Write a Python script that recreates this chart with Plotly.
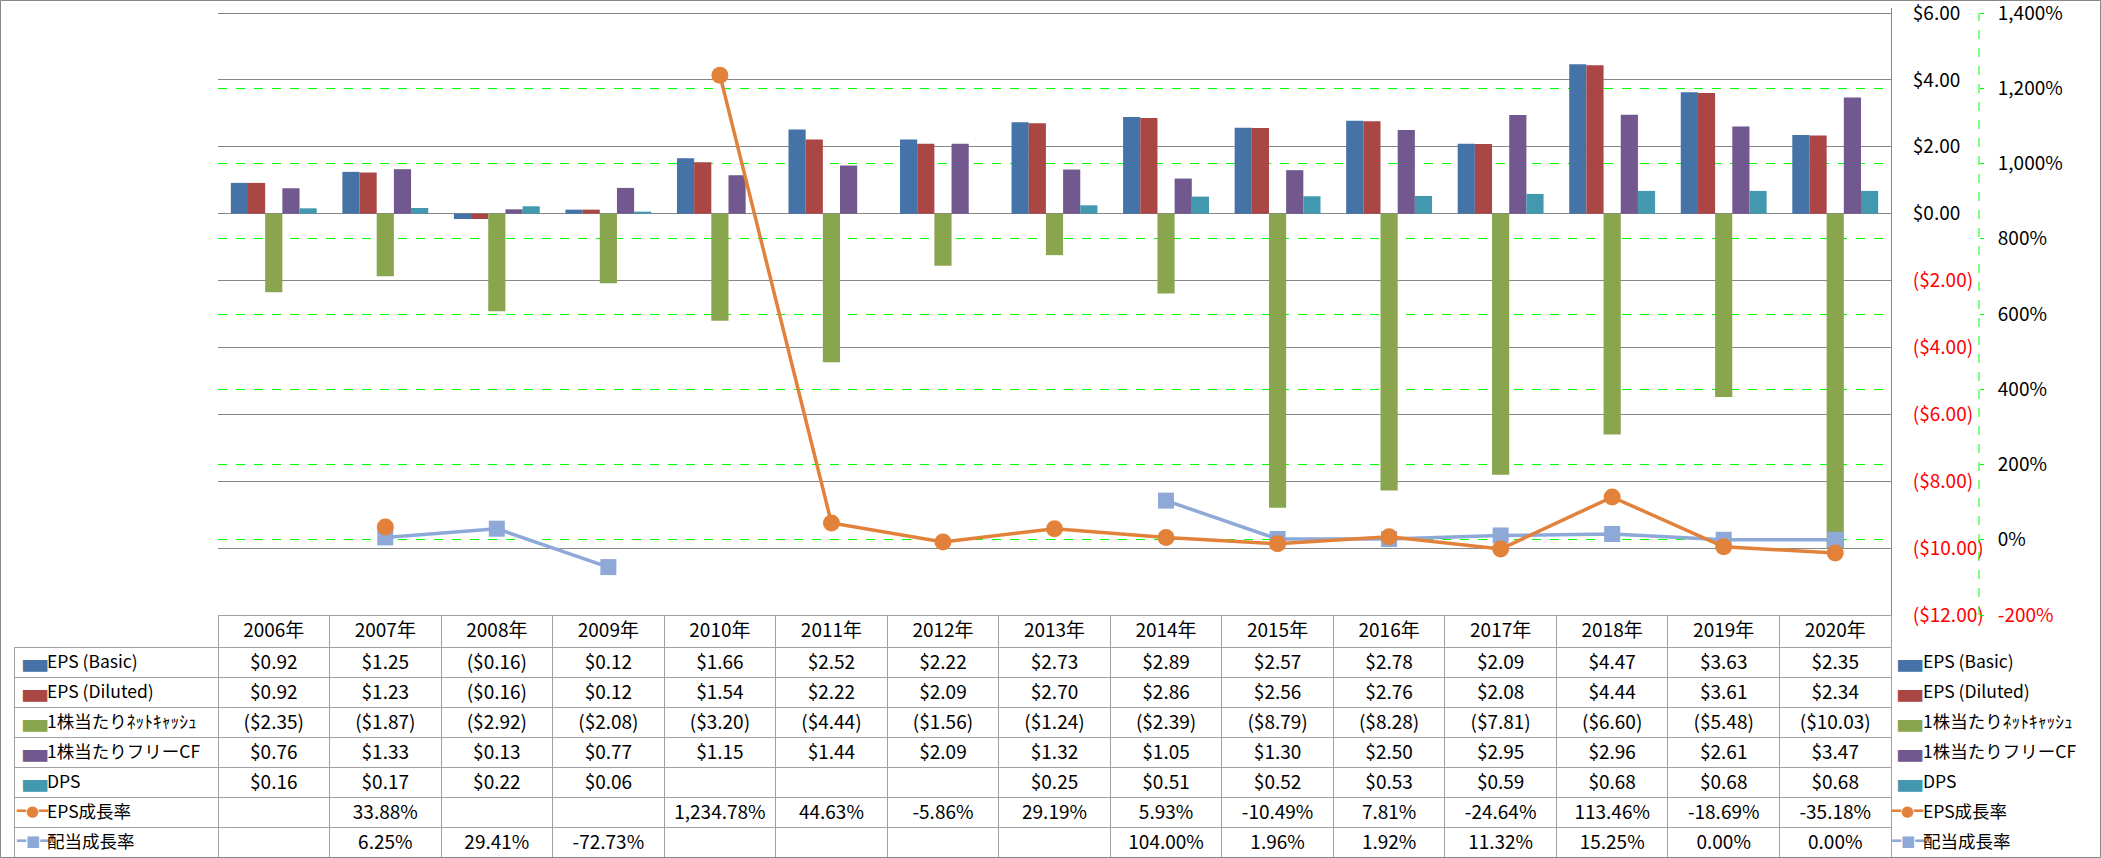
"""
EPS / cash-flow per share chart with data table (Excel style)
"""

import plotly.graph_objects as go

W, H = 2101, 858

years = ['2006年', '2007年', '2008年', '2009年', '2010年', '2011年', '2012年', '2013年',
         '2014年', '2015年', '2016年', '2017年', '2018年', '2019年', '2020年']
eps_basic = [0.92, 1.25, -0.16, 0.12, 1.66, 2.52, 2.22, 2.73, 2.89, 2.57, 2.78, 2.09, 4.47, 3.63, 2.35]
eps_diluted = [0.92, 1.23, -0.16, 0.12, 1.54, 2.22, 2.09, 2.70, 2.86, 2.56, 2.76, 2.08, 4.44, 3.61, 2.34]
net_cash = [-2.35, -1.87, -2.92, -2.08, -3.20, -4.44, -1.56, -1.24, -2.39, -8.79, -8.28, -7.81, -6.60, -5.48, -10.03]
free_cf = [0.76, 1.33, 0.13, 0.77, 1.15, 1.44, 2.09, 1.32, 1.05, 1.30, 2.50, 2.95, 2.96, 2.61, 3.47]
dps = [0.16, 0.17, 0.22, 0.06, None, None, None, 0.25, 0.51, 0.52, 0.53, 0.59, 0.68, 0.68, 0.68]
eps_growth = [None, 33.88, None, None, 1234.78, 44.63, -5.86, 29.19, 5.93, -10.49, 7.81, -24.64, 113.46, -18.69, -35.18]
div_growth = [None, 6.25, 29.41, -72.73, None, None, None, None, 104.00, 1.96, 1.92, 11.32, 15.25, 0.00, 0.00]

dollar_ticks = [6, 4, 2, 0, -2, -4, -6, -8, -10, -12]
pct_ticks_inner = [1200, 1000, 800, 600, 400, 200, 0]   # with green dashed gridlines
pct_ticks_ends = [1400, -200]                           # lie on the plot border lines

FONT = 'Noto Sans CJK JP'
GRID = '#878787'
TBL = '#A0A0A0'
GREEN = '#00FF00'
CLEAR = 'rgba(0,0,0,0)'

bar_series = [
    ('EPS (Basic)', eps_basic, '#4572A7'),
    ('EPS (Diluted)', eps_diluted, '#AA4643'),
    ('1株当たりﾈｯﾄｷｬｯｼｭ', net_cash, '#89A54E'),
    ('1株当たりフリーCF', free_cf, '#71588F'),
    ('DPS', dps, '#4198AF'),
]
line_series = [
    ('EPS成長率', eps_growth, '#E2823A', 'circle', 17, '━●━', 'y3'),
    ('配当成長率', div_growth, '#8EA8D8', 'square', 16, '━■━', 'y2'),
]


def money(v):
    if v is None:
        return ''
    return f'(${-v:,.2f})' if v < 0 else f'${v:,.2f}'


def pct(v):
    if v is None:
        return ''
    return f'{v:,.2f}%'


def red(s):
    return f'<span style="color:#FF0000">{s}</span>'


def pct_label(v):
    return red(f'{v:,}%') if v < 0 else f'{v:,}%'


def px(x):
    return x / W


def py(y):
    return 1 - y / H


# plot area in pixels: $6 / 1400% at y=13, ($12) / -200% at y=615
TOP, BOT = 8, 615
ppx_d = 18 / (BOT - 13)
ppx_p = 1600 / (BOT - 13)
pct_range = [-200, 1400 + ppx_p * (13 - TOP)]
AX2_X = px(1979)

fig = go.Figure()

for name, vals, col in bar_series:
    fig.add_trace(go.Bar(x=years, y=vals, name=name, marker_color=col,
                         marker_line_width=0, showlegend=False))

for name, vals, col, sym, msize, _, yax in line_series:
    fig.add_trace(go.Scatter(x=years, y=vals, name=name, yaxis=yax, mode='lines+markers',
                             line=dict(color=col, width=3.5),
                             marker=dict(symbol=sym, size=msize, color=col),
                             showlegend=False))

names = [s[0] for s in bar_series] + [s[0] for s in line_series]
sw_colors = [s[2] for s in bar_series] + [s[2] for s in line_series]
bar_glyphs = ['▬'] * len(bar_series) + [''] * len(line_series)
line_glyphs = [''] * len(bar_series) + [s[5] for s in line_series]

columns = [[''] * len(names)]
for i in range(len(years)):
    columns.append([money(s[1][i]) for s in bar_series] + [pct(s[1][i]) for s in line_series])

HDR, ROW = 32, 30
tbl_dom_y = [0, py(BOT)]

# data table under the plot
fig.add_trace(go.Table(
    domain=dict(x=[px(14), px(1892)], y=tbl_dom_y),
    columnwidth=[204] + [111.53] * len(years),
    header=dict(values=[''] + years, height=HDR,
                fill_color='white',
                line=dict(color=[CLEAR] + [TBL] * len(years), width=1),
                font=dict(family=FONT, size=19, color='black'), align='center'),
    cells=dict(values=columns, height=ROW, fill_color='white',
               line=dict(color=TBL, width=1),
               font=dict(family=FONT, size=19, color='black'),
               align=['left'] + ['center'] * len(years)),
))


def key_table(values, x0, x1, family, size, colors, hdr=HDR):
    return go.Table(
        domain=dict(x=[px(x0), px(x1)], y=tbl_dom_y),
        header=dict(values=[''], height=hdr, fill_color=CLEAR,
                    line=dict(color=CLEAR, width=0)),
        cells=dict(values=[values], height=ROW, fill_color=CLEAR,
                   line=dict(color=CLEAR, width=0),
                   font=dict(family=family, size=size, color=[colors]),
                   align='left'),
    )


# series keys: inside the table's first column and as a legend on the right
PAD = 8
for sw_x, text_x, x_end in [(20, 47, 218), (1895, 1923, 2100)]:
    fig.add_trace(key_table(bar_glyphs, sw_x - PAD, sw_x + 40, 'DejaVu Sans', 32,
                            sw_colors, hdr=HDR - 5))
    fig.add_trace(key_table(line_glyphs, sw_x - PAD - 3, sw_x + 40, 'DejaVu Sans', 15, sw_colors))
    fig.add_trace(key_table(names, text_x - PAD, x_end, FONT, 17.5, ['black'] * len(names)))

pct_axis = dict(overlaying='y', side='right', anchor='free', position=AX2_X,
                range=pct_range, zeroline=False, showline=False,
                ticks='outside', ticklen=4, tickcolor=GREEN, ticklabelstandoff=10,
                ticklabeloverflow='allow', tickfont=dict(family=FONT, size=19))

fig.update_layout(
    width=W, height=H,
    margin=dict(l=0, r=0, t=0, b=0, autoexpand=False),
    paper_bgcolor='white', plot_bgcolor='white',
    barmode='group', bargap=0.23, bargroupgap=0,
    font=dict(family=FONT, size=19, color='black'),
    xaxis=dict(domain=[px(218), px(1891)], range=[-0.5, len(years) - 0.5],
               showticklabels=False, showgrid=False, zeroline=False, ticks='',
               type='category'),
    yaxis=dict(domain=[py(BOT), py(TOP)], side='right', range=[-12, 6 + ppx_d * (13 - TOP)],
               tickvals=dollar_ticks,
               ticktext=[red(money(v)) if v < 0 else money(v) for v in dollar_ticks],
               showgrid=True, gridcolor=GRID, gridwidth=1, zeroline=False,
               showline=True, linecolor=GRID, linewidth=1, ticks='',
               ticklabelstandoff=17, ticklabeloverflow='allow',
               tickfont=dict(family=FONT, size=19)),
    yaxis2=dict(pct_axis, tickvals=pct_ticks_inner,
                ticktext=[pct_label(v) for v in pct_ticks_inner],
                showgrid=True, gridcolor=GREEN, griddash='dash', gridwidth=1),
    yaxis3=dict(pct_axis, tickvals=pct_ticks_ends,
                ticktext=[pct_label(v) for v in pct_ticks_ends], showgrid=False),
    shapes=[
        dict(type='line', xref='paper', yref='paper', x0=AX2_X, x1=AX2_X,
             y0=py(BOT), y1=py(13), line=dict(color=GREEN, width=1, dash='dash')),
        dict(type='rect', xref='paper', yref='paper', x0=px(0.5), x1=px(W - 0.5),
             y0=py(H - 0.5), y1=py(0.5), line=dict(color=GRID, width=1)),
    ],
)

# no modebar, and drop the page's default body margin so the figure fills the window
fig.write_html("out.html", config={'displayModeBar': False},
               post_script="document.body.style.margin = '0px';")
